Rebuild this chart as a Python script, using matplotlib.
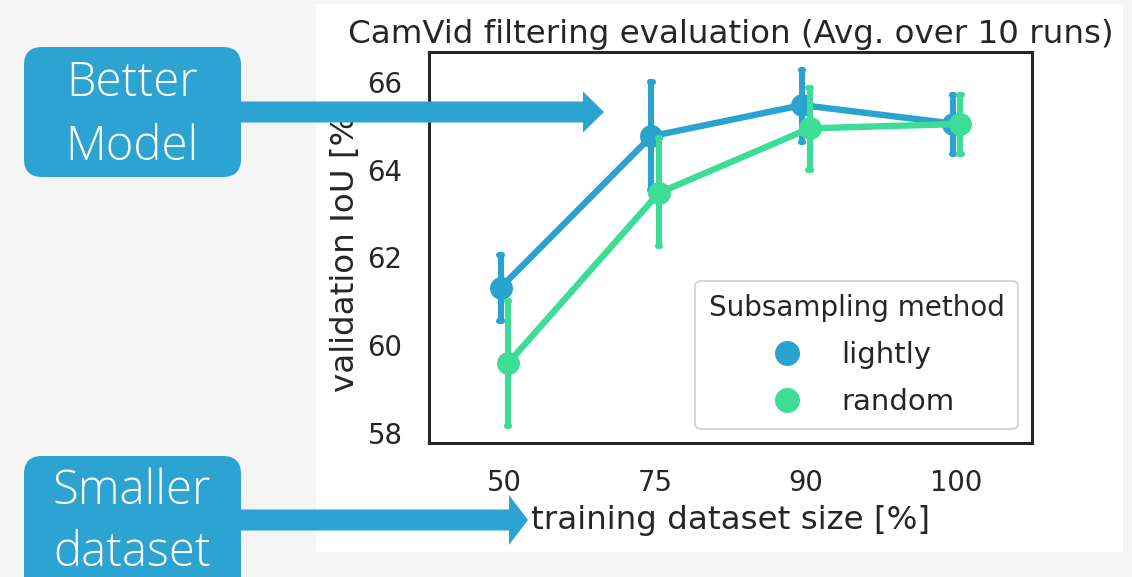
import matplotlib
matplotlib.use("Agg")
import matplotlib.pyplot as plt
import numpy as np
from matplotlib.patches import FancyBboxPatch, Rectangle, Polygon
from matplotlib.lines import Line2D

# ---------------- data ----------------
categories = ["50", "75", "90", "100"]
methods = ["lightly", "random"]
lightly_mean = [61.31, 64.76, 65.47, 65.05]
lightly_low = [60.55, 63.53, 64.63, 64.35]
lightly_high = [62.05, 65.99, 66.27, 65.70]
random_mean = [59.59, 63.47, 64.94, 65.04]
random_low = [58.16, 62.26, 63.99, 64.35]
random_high = [61.01, 64.71, 65.87, 65.70]
yticks = [58, 60, 62, 64, 66]

title = "CamVid filtering evaluation (Avg. over 10 runs)"
xlabel = "training dataset size [%]"
ylabel = "validation IoU [%]"
legend_title = "Subsampling method"
note_top = ["Better", "Model"]
note_bottom = ["Smaller", "dataset"]

BLUE = "#2ba3d1"
GREEN = "#3ddc97"
TXT = "#262626"
BOX = "#2ca3d1"

W, H = 1132, 577
fig = plt.figure(figsize=(W / 100, H / 100), dpi=100)
fig.patch.set_facecolor("#f5f5f5")

# white panel behind the chart
bg = fig.add_axes([0, 0, 1, 1], zorder=0)
bg.set_xlim(0, W); bg.set_ylim(H, 0); bg.axis("off")
bg.add_patch(Rectangle((316, 4), 1123 - 316, 552 - 4, facecolor="white", edgecolor="none"))

ax = fig.add_axes([429 / W, 1 - 443 / H, (1032 - 429) / W, (443 - 52) / H], zorder=1)
ax.set_facecolor("white")

x = np.arange(len(categories))
dodge = 0.025
series = [
    (lightly_mean, lightly_low, lightly_high, BLUE, -dodge, 2),
    (random_mean, random_low, random_high, GREEN, dodge, 4),
]
for mean, low, high, col, off, z in series:
    xs = x + off
    for xi, lo, hi in zip(xs, low, high):
        ax.plot([xi, xi], [lo, hi], color=col, lw=4.4, solid_capstyle="round", zorder=z)
        for yy in (lo, hi):
            ax.plot([xi - 0.008, xi + 0.008], [yy, yy], color=col, lw=4.4,
                    solid_capstyle="round", zorder=z)
    ax.plot(xs, mean, color=col, lw=4.6, marker="o", markersize=16.5,
            markeredgewidth=0, zorder=z + 1, solid_capstyle="round")

ax.set_xlim(-0.5, len(categories) - 0.5)
ax.set_ylim(57.77, 66.68)
ax.set_xticks(x)
ax.set_xticklabels(categories)
ax.set_yticks(yticks)
ax.tick_params(length=0, labelsize=19.8, labelcolor=TXT, pad=19)
for s in ax.spines.values():
    s.set_color(TXT); s.set_linewidth(2.2)
ax.set_title(title, fontsize=23.4, color=TXT, pad=6.5)
ax.set_xlabel(xlabel, fontsize=23.4, color=TXT, labelpad=5.5)
ax.set_ylabel(ylabel, fontsize=23.4, color=TXT, labelpad=5)

handles = [Line2D([], [], color=BLUE, marker="o", linestyle="none", markersize=17),
           Line2D([], [], color=GREEN, marker="o", linestyle="none", markersize=17)]
leg = ax.legend(handles, methods, title=legend_title, loc="lower right",
                bbox_to_anchor=(0.976, 0.036), borderaxespad=0, fontsize=21,
                title_fontsize=20, handletextpad=0.85, labelspacing=0.65,
                borderpad=0.45, frameon=True, fancybox=True)
leg.set_zorder(10)
leg.get_frame().set_edgecolor("#cccccc")
leg.get_frame().set_linewidth(1.5)
for t in leg.get_texts():
    t.set_color(TXT)
leg.get_title().set_color(TXT)

# annotation overlay
ov = fig.add_axes([0, 0, 1, 1], zorder=5)
ov.set_xlim(0, W); ov.set_ylim(H, 0); ov.axis("off")
ov.patch.set_alpha(0)

def rbox(x0, y0, x1, y1):
    ov.add_patch(FancyBboxPatch((x0 + 18, y0 + 18), x1 - x0 - 36, y1 - y0 - 36,
                                boxstyle="round,pad=18", facecolor=BOX, edgecolor="none"))

def arrow(x0, x1, yc, shaft, head_h, head_l):
    pts = [(x0, yc - shaft / 2), (x1 - head_l, yc - shaft / 2), (x1 - head_l, yc - head_h / 2),
           (x1, yc), (x1 - head_l, yc + head_h / 2), (x1 - head_l, yc + shaft / 2),
           (x0, yc + shaft / 2)]
    ov.add_patch(Polygon(pts, closed=True, facecolor=BOX, edgecolor="none"))

rbox(24, 47, 241, 177)
rbox(24, 456, 241, 600)
arrow(235, 604, 112, 21, 41, 21)
arrow(235, 528, 520, 21, 50, 19)

fam = ["Open Sans", "DejaVu Sans"]
for txt, yc in zip(note_top, [84, 148]):
    ov.text(132, yc, txt, ha="center", va="center", color="white", fontsize=34,
            family=fam, weight="light")
for txt, yc in zip(note_bottom, [492, 554]):
    ov.text(132, yc, txt, ha="center", va="center", color="white", fontsize=34,
            family=fam, weight="light")

fig.savefig("out.png", dpi=100, facecolor=fig.get_facecolor())
